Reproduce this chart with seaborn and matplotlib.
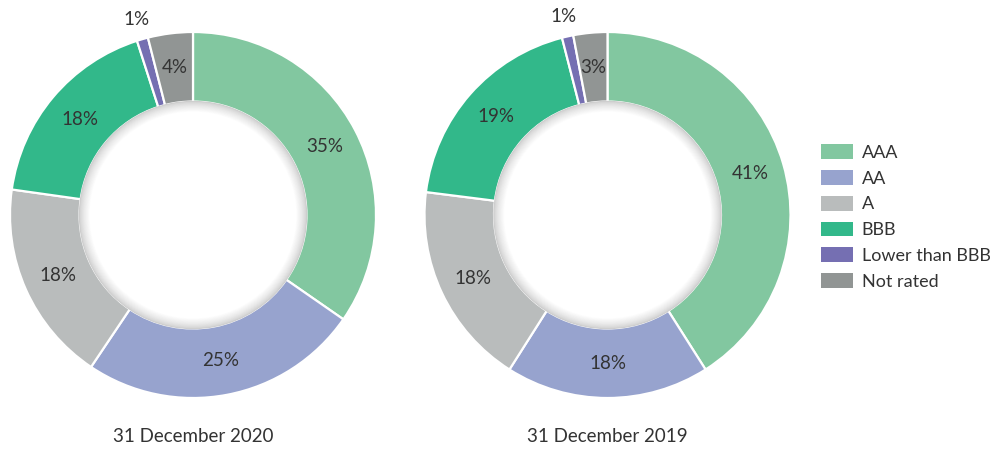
import numpy as np
import matplotlib
matplotlib.use("Agg")
import matplotlib.pyplot as plt
import seaborn as sns
from matplotlib.patches import Circle, Patch

categories = ["AAA", "AA", "A", "BBB", "Lower than BBB", "Not rated"]
values_2020 = [35, 25, 18, 18, 1, 4]
values_2019 = [41, 18, 18, 19, 1, 3]
titles = ["31 December 2020", "31 December 2019"]
colors = ["#82C7A0", "#97A3CE", "#B9BCBC", "#32B88A", "#756FB2", "#919594"]

sns.set_theme(style="white")
plt.rcParams['font.family'] = ['Lato', 'DejaVu Sans']
palette = sns.color_palette(colors)

W, H = 1004, 449
fig = plt.figure(figsize=(W / 100, H / 100), dpi=100)
fig.patch.set_facecolor("white")

text_color = "#333333"
fs = 13.5
inner = 0.62
centers = [(193, 215), (607.5, 215)]
R = 183

for (cx, cy), vals, title in zip(centers, [values_2020, values_2019], titles):
    ax = fig.add_axes([(cx - R) / W, (H - cy - R) / H, 2 * R / W, 2 * R / H])
    ax.set_aspect("equal")
    wedges, _ = ax.pie(vals, colors=palette, startangle=90, counterclock=False,
                       radius=1.0,
                       wedgeprops=dict(width=1 - inner, edgecolor="white", linewidth=1.6))
    # inner shadow
    n = 14
    for i in range(n):
        r = inner + 0.004 - i * 0.0045
        g = 0.80 + 0.20 * (i / (n - 1)) ** 0.7
        ax.add_patch(Circle((0, 0), r, facecolor=(g, g, g), edgecolor="none", zorder=3))
    ax.add_patch(Circle((0, 0), inner - n * 0.0045, facecolor="white", edgecolor="none", zorder=3))
    for w, v in zip(wedges, vals):
        ang = np.deg2rad((w.theta1 + w.theta2) / 2)
        rr = (1 + inner) / 2 if v >= 3 else 1.11
        ax.text(rr * np.cos(ang), rr * np.sin(ang), f"{v}%", ha="center", va="center",
                fontsize=fs, color=text_color, zorder=5)
    ax.set_xlim(-1, 1)
    ax.set_ylim(-1, 1)
    ax.axis("off")
    fig.text(cx / W, 1 - 437 / H, title, ha="center", va="center", fontsize=fs, color=text_color)

handles = [Patch(facecolor=c, edgecolor="none") for c in palette]
fig.legend(handles, categories, loc="upper left", bbox_to_anchor=(805 / W, 1 - 128 / H),
           frameon=False, fontsize=13, handlelength=1.75, handleheight=0.9,
           labelspacing=0.5, handletextpad=0.5, labelcolor=text_color)

fig.savefig("out.png", dpi=100)
